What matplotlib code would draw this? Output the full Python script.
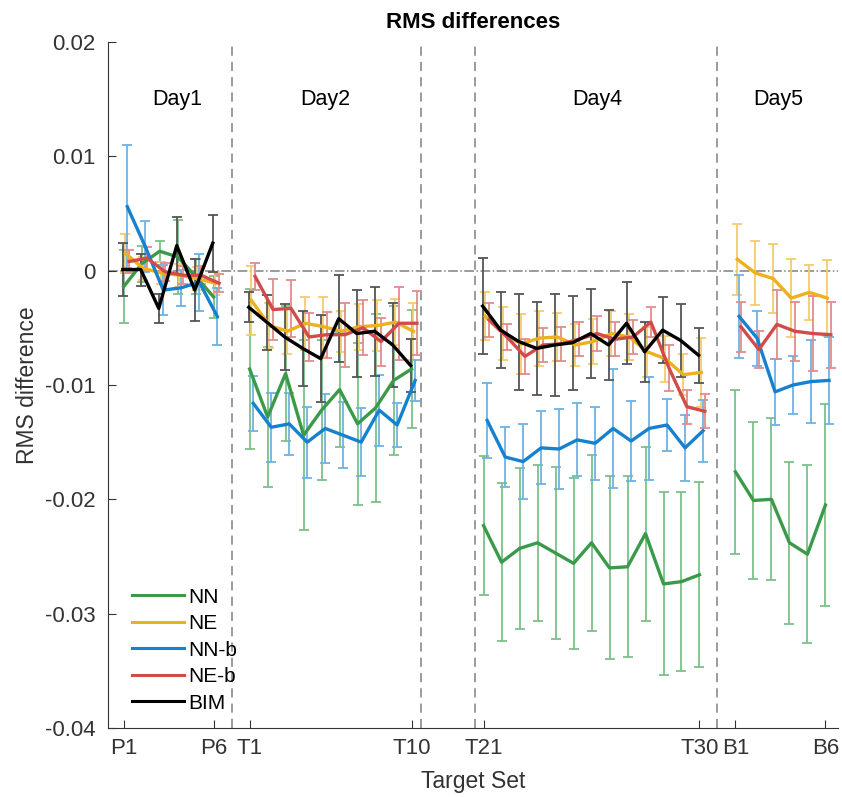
import numpy as np
import matplotlib
matplotlib.use("Agg")
import matplotlib.pyplot as plt

plt.rcParams['font.family'] = ['Liberation Sans', 'DejaVu Sans']

# data
days = ["Day1", "Day2", "Day4", "Day5"]
day_sizes = [6, 10, 13, 6]
tick_labels = ["P1", "P6", "T1", "T10", "T21", "T30", "B1", "B6"]
series = ["NN", "NE", "NN-b", "NE-b", "BIM"]

nn = [-0.0014, 0.0006, 0.0017, 0.0012, -0.0005, -0.0023,
      -0.0086, -0.0128, -0.0090, -0.0144, -0.0122, -0.0104, -0.0134, -0.0120, -0.0096, -0.0086,
      -0.0223, -0.0255, -0.0243, -0.0238, -0.0247, -0.0256, -0.0238, -0.0260, -0.0259, -0.0230, -0.0274, -0.0272, -0.0266,
      -0.0176, -0.0201, -0.0200, -0.0238, -0.0248, -0.0205]
nn_err = [0.0032, 0.0016, 0.0009, 0.0032, 0.0015, 0.0018,
          0.0070, 0.0061, 0.0059, 0.0083, 0.0061, 0.0050, 0.0071, 0.0082, 0.0065, 0.0052,
          0.0061, 0.0069, 0.0070, 0.0068, 0.0075, 0.0075, 0.0077, 0.0080, 0.0079, 0.0076, 0.0080, 0.0078, 0.0081,
          0.0072, 0.0069, 0.0071, 0.0071, 0.0078, 0.0088]

ne = [0.0015, 0.0002, -0.0002, -0.0004, -0.0007, -0.0011,
      -0.0026, -0.0048, -0.0053, -0.0046, -0.0049, -0.0053, -0.0049, -0.0048, -0.0045, -0.0053,
      -0.0040, -0.0055, -0.0064, -0.0059, -0.0058, -0.0065, -0.0062, -0.0055, -0.0058, -0.0071, -0.0077, -0.0091, -0.0089,
      0.0010, -0.0002, -0.0007, -0.0024, -0.0019, -0.0024]
ne_err = [0.0017, 0.0010, 0.0010, 0.0010, 0.0010, 0.0010,
          0.0030, 0.0020, 0.0020, 0.0023, 0.0026, 0.0018, 0.0020, 0.0022, 0.0020, 0.0025,
          0.0021, 0.0023, 0.0026, 0.0024, 0.0021, 0.0018, 0.0020, 0.0020, 0.0020, 0.0022, 0.0020, 0.0018, 0.0030,
          0.0031, 0.0028, 0.0030, 0.0034, 0.0024, 0.0033]

nnb = [0.0056, 0.0021, -0.0017, -0.0015, -0.0010, -0.0040,
       -0.0116, -0.0137, -0.0134, -0.0150, -0.0138, -0.0144, -0.0150, -0.0122, -0.0135, -0.0096,
       -0.0131, -0.0163, -0.0167, -0.0155, -0.0156, -0.0148, -0.0151, -0.0138, -0.0149, -0.0138, -0.0135, -0.0155, -0.0140,
       -0.0040, -0.0059, -0.0106, -0.0100, -0.0097, -0.0096]
nnb_err = [0.0054, 0.0022, 0.0022, 0.0016, 0.0025, 0.0025,
           0.0024, 0.0030, 0.0027, 0.0031, 0.0030, 0.0029, 0.0030, 0.0031, 0.0019, 0.0018,
           0.0033, 0.0026, 0.0033, 0.0032, 0.0035, 0.0032, 0.0032, 0.0052, 0.0035, 0.0045, 0.0023, 0.0029, 0.0027,
           0.0036, 0.0024, 0.0029, 0.0025, 0.0036, 0.0038]

neb = [0.0008, 0.0011, -0.0001, -0.0004, -0.0004, -0.0011,
       -0.0005, -0.0034, -0.0033, -0.0058, -0.0056, -0.0056, -0.0050, -0.0062, -0.0046, -0.0046,
       -0.0043, -0.0058, -0.0075, -0.0065, -0.0064, -0.0060, -0.0055, -0.0060, -0.0058, -0.0045, -0.0085, -0.0119, -0.0123,
       -0.0049, -0.0069, -0.0047, -0.0053, -0.0055, -0.0056]
neb_err = [0.0010, 0.0010, 0.0008, 0.0008, 0.0008, 0.0008,
           0.0012, 0.0027, 0.0025, 0.0021, 0.0020, 0.0028, 0.0024, 0.0021, 0.0032, 0.0028,
           0.0015, 0.0011, 0.0015, 0.0015, 0.0015, 0.0015, 0.0015, 0.0015, 0.0015, 0.0013, 0.0020, 0.0015, 0.0015,
           0.0022, 0.0016, 0.0030, 0.0026, 0.0033, 0.0029]

bim = [0.0001, 0.0001, -0.0033, 0.0022, -0.0017, 0.0024,
       -0.0032, -0.0045, -0.0058, -0.0068, -0.0077, -0.0042, -0.0055, -0.0053, -0.0065, -0.0083,
       -0.0031, -0.0052, -0.0062, -0.0068, -0.0065, -0.0063, -0.0055, -0.0065, -0.0046, -0.0071, -0.0052, -0.0061, -0.0074,
       np.nan, np.nan, np.nan, np.nan, np.nan, np.nan]
bim_err = [0.0023, 0.0014, 0.0013, 0.0025, 0.0027, 0.0025,
           0.0013, 0.0024, 0.0029, 0.0033, 0.0038, 0.0038, 0.0038, 0.0039, 0.0037, 0.0023,
           0.0042, 0.0033, 0.0042, 0.0041, 0.0045, 0.0041, 0.0039, 0.0031, 0.0036, 0.0026, 0.0029, 0.0032, 0.0024,
           np.nan, np.nan, np.nan, np.nan, np.nan, np.nan]

values = [nn, ne, nnb, neb, bim]
errors = [nn_err, ne_err, nnb_err, neb_err, bim_err]
colors = ['#3a9a4a', '#edb120', '#1681cf', '#d24b4b', '#000000']
ebar_colors = ['#7cc088', '#f3cd6a', '#6eb3e3', '#e38b8b', '#555555']
offsets = [0.0, 0.1, 0.2, 0.3, -0.05]

# x layout: one unit per target set, gaps between days
day_starts = [1, 8, 21, 35]
bounds = [7, 17.5, 20.5, 34]
day_label_x = [4.0, 12.2, 27.3, 37.4]

fig = plt.figure(figsize=(8.42, 7.97), dpi=100)
ax = fig.add_axes([0.1283, 0.0866, 0.867, 0.8607])

ax.axhline(0, color='#808080', ls='-.', lw=1.1, zorder=1)
for b in bounds:
    ax.axvline(b, color='#808080', ls=(0, (6, 4)), lw=1.1, zorder=1)

handles = []
for s in range(len(series)):
    v = np.array(values[s])
    e = np.array(errors[s])
    start = 0
    for d in range(len(days)):
        n = day_sizes[d]
        x = day_starts[d] + np.arange(n) + offsets[s]
        yv = v[start:start + n]
        ye = e[start:start + n]
        start += n
        if np.all(np.isnan(yv)):
            continue
        ax.errorbar(x, yv, yerr=ye, fmt='none', ecolor=ebar_colors[s], elinewidth=1.3,
                    capsize=3.5, capthick=1.3, zorder=2)
        ln, = ax.plot(x, yv, color=colors[s], lw=2.4, zorder=3 + s * 0.1)
        if d == 0:
            handles.append(ln)

for d in range(len(days)):
    ax.text(day_label_x[d], 0.015, days[d], ha='center', va='center', fontsize=15.5)

tick_pos = []
for d in range(len(days)):
    tick_pos += [day_starts[d], day_starts[d] + day_sizes[d] - 1]
ax.set_xticks(tick_pos)
ax.set_xticklabels(tick_labels)
ax.set_yticks([0.02, 0.01, 0, -0.01, -0.02, -0.03, -0.04])
ax.set_yticklabels(["0.02", "0.01", "0", "-0.01", "-0.02", "-0.03", "-0.04"])
ax.set_xlim(0.13, 40.7)
ax.set_ylim(-0.04, 0.02)
ax.tick_params(direction='in', labelsize=16, colors='#333333', length=6)
ax.tick_params(axis='y', pad=9)
ax.tick_params(axis='x', pad=7)
for sp in ['top', 'right']:
    ax.spines[sp].set_visible(False)
for sp in ['left', 'bottom']:
    ax.spines[sp].set_color('#333333')

ax.set_title("RMS differences", fontsize=16, fontweight='bold', pad=10)
ax.set_xlabel("Target Set", fontsize=16.5, color='#333333', labelpad=8)
ax.set_ylabel("RMS difference", fontsize=16.5, color='#333333', labelpad=4)

leg = ax.legend(handles, series, loc='lower left', bbox_to_anchor=(0.007, -0.005), frameon=False,
                fontsize=15, handlelength=2.5, handletextpad=0.2, labelspacing=0.36)
for h in leg.get_lines():
    h.set_linewidth(2.2)

fig.savefig("out.png", dpi=100)
